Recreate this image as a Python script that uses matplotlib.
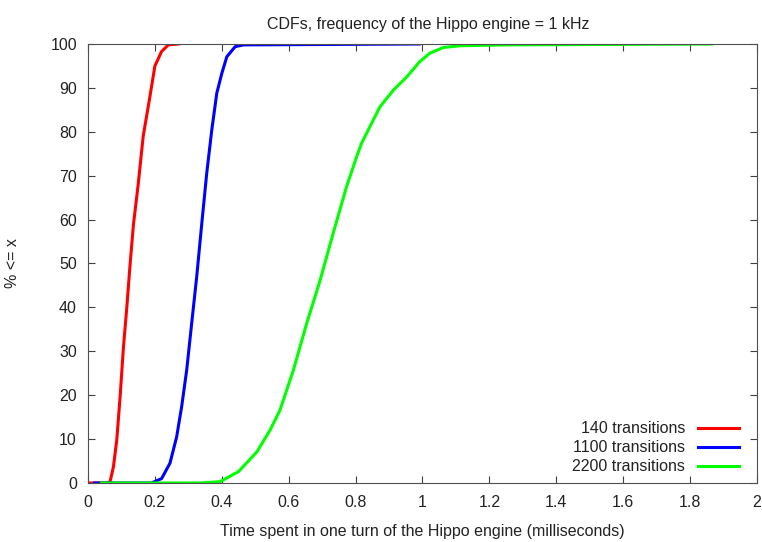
import matplotlib
matplotlib.use("Agg")
import matplotlib.pyplot as plt

plt.rcParams["font.family"] = ["Liberation Sans", "DejaVu Sans"]

# CDF samples (x in ms, y in %)
red_x = [0.0, 0.06, 0.066, 0.076, 0.086, 0.096, 0.106, 0.116, 0.126, 0.136,
         0.150, 0.165, 0.185, 0.200, 0.220, 0.240, 0.270]
red_y = [0.0, 0.0, 0.3, 3.7, 9.8, 19.7, 31, 40, 50, 59,
         68, 79, 88, 95, 98.3, 99.8, 100]

blue_x = [0.02, 0.19, 0.22, 0.245, 0.265, 0.28, 0.295, 0.31, 0.325, 0.34,
          0.355, 0.37, 0.385, 0.40, 0.415, 0.44, 0.465, 0.99]
blue_y = [0.0, 0.0, 1, 4.5, 10.5, 17.4, 25.7, 36.4, 47, 59,
          70.6, 80.4, 88.8, 93.3, 97.1, 99.4, 99.8, 100]

green_x = [0.04, 0.335, 0.395, 0.45, 0.505, 0.544, 0.574, 0.614, 0.654, 0.694,
           0.733, 0.773, 0.803, 0.818, 0.843, 0.873, 0.913, 0.953, 0.992, 1.022,
           1.062, 1.112, 1.25, 1.864]
green_y = [0.0, 0.0, 0.3, 2.6, 7.1, 12, 16.6, 25.7, 36.4, 46.2,
           56.9, 67.5, 74.3, 77.4, 81.2, 85.7, 89.5, 92.5, 96, 97.9,
           99.2, 99.6, 99.8, 100]

labels = ["140 transitions", "1100 transitions", "2200 transitions"]
xticks = [0, 0.2, 0.4, 0.6, 0.8, 1, 1.2, 1.4, 1.6, 1.8, 2]
xticklabels = ["0", "0.2", "0.4", "0.6", "0.8", "1", "1.2", "1.4", "1.6", "1.8", "2"]
yticks = list(range(0, 101, 10))

fs = 11.5
fig = plt.figure(figsize=(7.62, 5.42), dpi=100)
ax = fig.add_axes([0.1155, 0.1089, 0.8779, 0.8099])

ax.plot(red_x, red_y, color="#ff0000", lw=2.2, label=labels[0])
ax.plot(blue_x, blue_y, color="#0000ff", lw=2.2, label=labels[1])
ax.plot(green_x, green_y, color="#00ff00", lw=2.2, label=labels[2])

ax.set_xlim(0, 2)
ax.set_ylim(0, 100)
ax.set_xticks(xticks)
ax.set_xticklabels(xticklabels)
ax.set_yticks(yticks)
ax.tick_params(direction="in", top=True, right=True, length=5,
               color="#404040", labelsize=fs, labelcolor="#222222")
ax.tick_params(axis="x", pad=9)
ax.tick_params(axis="y", pad=8)
for s in ax.spines.values():
    s.set_color("#505050")

ax.set_title("CDFs, frequency of the Hippo engine = 1 kHz", fontsize=fs, pad=11,
             color="#222222", x=0.508)
ax.set_xlabel("Time spent in one turn of the Hippo engine (milliseconds)",
              fontsize=fs, labelpad=10, color="#222222")
ax.set_ylabel("% <= x", fontsize=fs, labelpad=22, color="#222222")

leg = ax.legend(loc="lower right", frameon=False, markerfirst=False, fontsize=fs,
                handlelength=2.6, labelspacing=0.25, borderaxespad=0.15,
                bbox_to_anchor=(0.987, 0.0))
for t in leg.get_texts():
    t.set_color("#222222")

fig.savefig("out.png", dpi=100)
